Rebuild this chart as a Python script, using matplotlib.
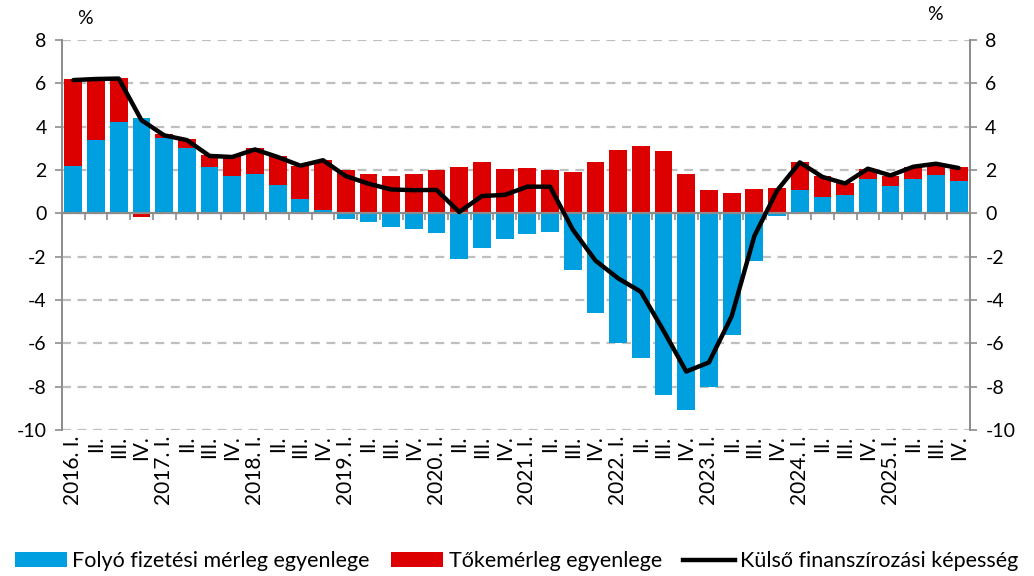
import matplotlib
matplotlib.use("Agg")
import matplotlib.pyplot as plt
import numpy as np
from matplotlib.patches import Patch
from matplotlib.lines import Line2D

plt.rcParams['font.family'] = ['Lato', 'DejaVu Sans']

years = ["2016", "2017", "2018", "2019", "2020", "2021", "2022", "2023", "2024", "2025"]
quarters = ["I.", "II.", "III.", "IV."]
labels = []
for y in years:
    for q in quarters:
        labels.append(f"{y}. {q}" if q == "I." else q)

current_account = [2.18, 3.37, 4.22, 4.42, 3.49, 3.03, 2.12, 1.72, 1.83, 1.31,
                   0.65, 0.17, -0.25, -0.42, -0.62, -0.74, -0.89, -2.09, -1.62, -1.20,
                   -0.97, -0.85, -2.62, -4.62, -5.98, -6.68, -8.40, -9.10, -8.03, -5.62,
                   -2.22, -0.14, 1.06, 0.77, 0.83, 1.60, 1.25, 1.60, 1.78, 1.48]
capital_account = [4.00, 2.77, 2.04, -0.17, 0.16, 0.40, 0.56, 0.91, 1.17, 1.32,
                   1.55, 2.31, 1.98, 1.80, 1.72, 1.80, 1.98, 2.15, 2.38, 2.03,
                   2.08, 1.98, 1.92, 2.39, 2.91, 3.10, 2.86, 1.82, 1.09, 0.94,
                   1.14, 1.17, 1.31, 0.94, 0.57, 0.46, 0.49, 0.52, 0.51, 0.64]
net_lending = [6.15, 6.20, 6.22, 4.30, 3.60, 3.38, 2.65, 2.60, 2.95, 2.60,
               2.20, 2.45, 1.72, 1.37, 1.10, 1.07, 1.08, 0.06, 0.80, 0.85,
               1.23, 1.23, -0.75, -2.18, -3.00, -3.62, -5.42, -7.30, -6.88, -4.75,
               -1.05, 1.05, 2.35, 1.68, 1.38, 2.06, 1.75, 2.15, 2.29, 2.09]

blue = "#009FDF"
red = "#DC0000"
grid_c = "#BFBFBF"
axis_c = "#8C8C8C"

fig = plt.figure(figsize=(10.34, 5.76), dpi=100)
ax = fig.add_axes([62/1034, 1 - 430/576, (970-62)/1034, (430-40)/576])

x = np.arange(len(labels))
ca = np.array(current_account)
ka = np.array(capital_account)

ca_pos = np.where(ca > 0, ca, 0)
ca_neg = np.where(ca < 0, ca, 0)
ka_bottom = np.where(ka > 0, ca_pos, ca_neg)

ax.bar(x, ca, width=0.78, color=blue, zorder=3)
ax.bar(x, ka, width=0.78, bottom=ka_bottom, color=red, zorder=3)
ax.plot(x, net_lending, color="black", lw=3.2, zorder=5, solid_capstyle="round", solid_joinstyle="round")

ax.set_xlim(-0.5, len(labels) - 0.5)
ax.set_ylim(-10, 8)
yt = np.arange(-10, 9, 2)
ax.set_yticks(yt)
ax.set_yticklabels([str(v) for v in yt])
for v in yt:
    ax.axhline(v, color=grid_c, lw=1.6, ls=(0, (4, 3)), zorder=1)
ax.axhline(0, color=axis_c, lw=1.6, zorder=4)

for s in ["top", "bottom"]:
    ax.spines[s].set_visible(False)
for s in ["left", "right"]:
    ax.spines[s].set_color(axis_c)
    ax.spines[s].set_linewidth(1.4)

ax.tick_params(axis="y", which="both", length=5, width=1.2, color=axis_c,
               labelsize=14, left=True, right=True, labelleft=True, labelright=True, pad=6)

ax.set_xticks(x)
ax.set_xticklabels(labels, rotation=90, fontsize=15)
ax.tick_params(axis="x", length=0, pad=4)

sec = ax.secondary_xaxis(0, transform=ax.transData)
sec.set_xticks(np.arange(-0.5, len(labels) + 0.5, 1.0))
sec.set_xticklabels([])
sec.tick_params(axis="x", length=5, width=1.2, color=axis_c, direction="out")
sec.spines["bottom"].set_visible(False)

fig.text(85/1034, 1 - 18/576, "%", fontsize=14, ha="center", va="center")
fig.text(935/1034, 1 - 15/576, "%", fontsize=14, ha="center", va="center")

handles = [Patch(facecolor=blue), Patch(facecolor=red), Line2D([0], [0], color="black", lw=3.2)]
names = ["Folyó fizetési mérleg egyenlege", "Tőkemérleg egyenlege", "Külső finanszírozási képesség"]
fig.legend(handles, names, loc="center", bbox_to_anchor=(0.5, 1 - 561/576), ncol=3,
           frameon=False, fontsize=15.5, handlelength=2.4, handleheight=0.65,
           handletextpad=0.25, columnspacing=1.0, borderaxespad=0, borderpad=0)

fig.savefig("out.png", dpi=100)
